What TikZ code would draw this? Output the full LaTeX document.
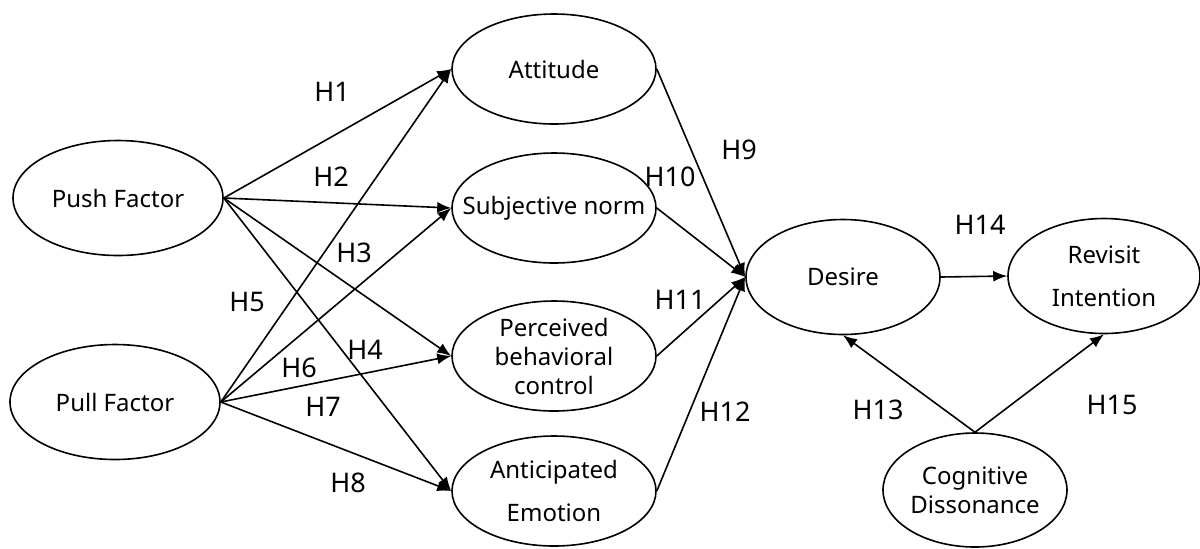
\documentclass[tikz,border=0pt]{standalone}
\usepackage{fontspec}
\setmainfont{Noto Sans}
\usetikzlibrary{shapes,arrows.meta}
\tikzstyle{node_factor} = [ellipse, draw, line width=0.8pt, inner sep=0pt, minimum width=105pt, minimum height=57.5pt]
\tikzstyle{node_mid} = [ellipse, draw, line width=0.8pt, inner sep=0pt, minimum width=102pt, minimum height=55pt]
\tikzstyle{node_out} = [ellipse, draw, line width=0.8pt, inner sep=0pt, minimum width=97pt, minimum height=57.5pt]
\tikzstyle{edge_path} = [line width=0.8pt, -{Latex[length=7pt,width=5.5pt]}]
\tikzstyle{hyp_label} = [inner sep=0pt, font=\fontsize{13.5}{16}\selectfont]

\begin{document}
\begin{tikzpicture}[x=0.5pt, y=-0.5pt, font=\fontsize{12}{14.5}\selectfont]
\useasboundingbox (0,0) rectangle (1200,548);
\node (Push) at (118,198) [node_factor, label=center:Push Factor] {};
\node (Pull) at (115,402) [node_factor, label=center:Pull Factor] {};
\node (ATT) at (554,69) [node_mid, label=center:Attitude] {};
\node (SN) at (554,208) [node_mid, label=center:Subjective norm] {};
\node (PBC) at (554,356) [node_mid, label={[align=center]center:Perceived\\behavioral\\control}] {};
\node (AE) at (554,491) [node_mid, label={[align=center]center:Anticipated\\[7pt]Emotion}] {};
\node (DES) at (843,277) [node_out, label=center:Desire] {};
\node (RI) at (1104,276) [node_out, minimum width=96pt, label={[align=center]center:Revisit\\[7pt]Intention}] {};
\node (CD) at (975,490) [node_out, minimum width=92pt, minimum height=57pt, label={[align=center]center:Cognitive\\Dissonance}] {};

\draw[edge_path] (Push.east)--(ATT.west);
\draw[edge_path] (Push.east)--(SN.west);
\draw[edge_path] (Push.east)--(PBC.west);
\draw[edge_path] (Push.east)--(AE.west);
\draw[edge_path] (Pull.east)--(ATT.west);
\draw[edge_path] (Pull.east)--(SN.west);
\draw[edge_path] (Pull.east)--(PBC.west);
\draw[edge_path] (Pull.east)--(AE.west);
\draw[edge_path] (ATT.east)--(DES.west);
\draw[edge_path] (SN.east)--(DES.west);
\draw[edge_path] (PBC.east)--(DES.west);
\draw[edge_path] (AE.east)--(DES.west);
\draw[edge_path] (DES.east)--(RI.west);
\draw[edge_path] (CD.north)--(DES.south);
\draw[edge_path] (CD.north)--(RI.south);

\node (h1) at (332,92) [hyp_label] {H1};
\node (h2) at (331,177) [hyp_label] {H2};
\node (h3) at (354,253) [hyp_label] {H3};
\node (h4) at (365,350) [hyp_label] {H4};
\node (h5) at (247,302) [hyp_label] {H5};
\node (h6) at (299,368) [hyp_label] {H6};
\node (h7) at (323,407) [hyp_label] {H7};
\node (h8) at (348,483) [hyp_label] {H8};
\node (h9) at (739,150) [hyp_label] {H9};
\node (h10) at (670,177) [hyp_label] {H10};
\node (h11) at (680,300) [hyp_label] {H11};
\node (h12) at (725,412) [hyp_label] {H12};
\node (h13) at (878,410) [hyp_label] {H13};
\node (h14) at (980,225) [hyp_label] {H14};
\node (h15) at (1112,405) [hyp_label] {H15};
\end{tikzpicture}
\end{document}
